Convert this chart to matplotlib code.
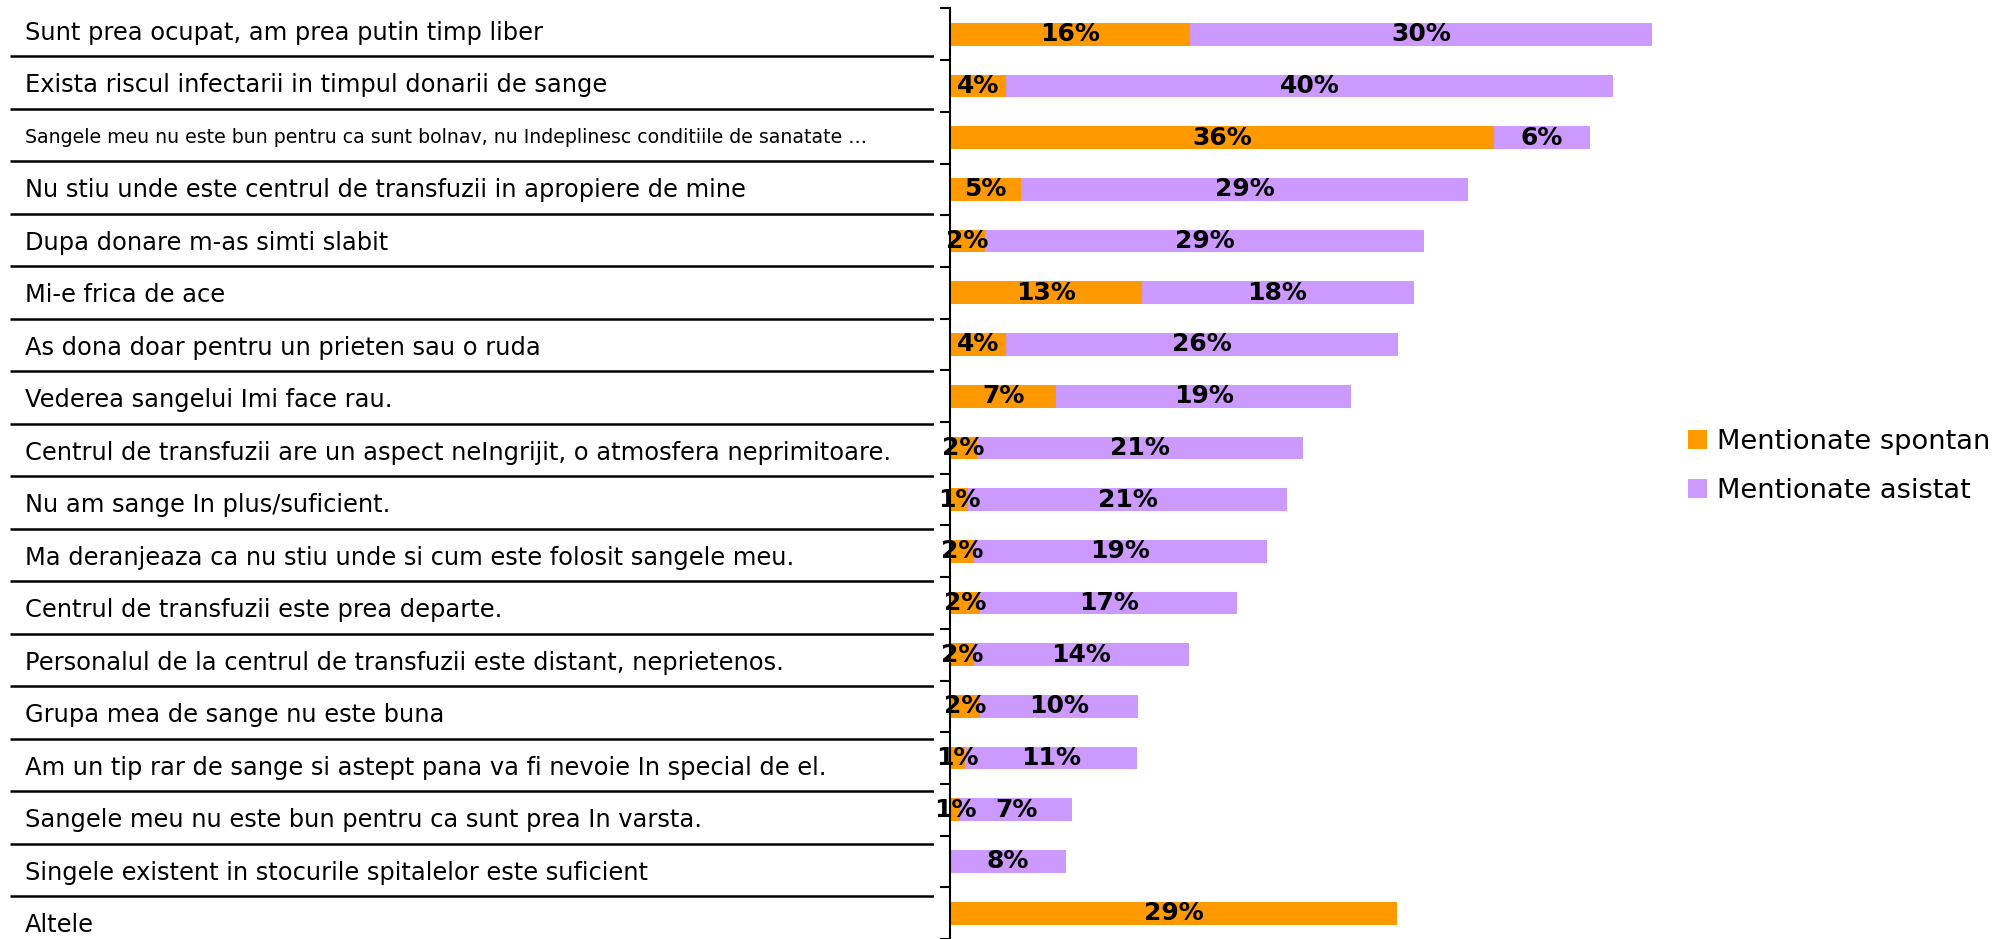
import matplotlib
matplotlib.use("Agg")
import matplotlib.pyplot as plt
from matplotlib.patches import Patch
import numpy as np

categories = [
    "Sunt prea ocupat, am prea putin timp liber",
    "Exista riscul infectarii in timpul donarii de sange",
    "Sangele meu nu este bun pentru ca sunt bolnav, nu Indeplinesc conditiile de sanatate \u2026",
    "Nu stiu unde este centrul de transfuzii in apropiere de mine",
    "Dupa donare m-as simti slabit",
    "Mi-e frica de ace",
    "As dona doar pentru un prieten sau o ruda",
    "Vederea sangelui Imi face rau.",
    "Centrul de transfuzii are un aspect neIngrijit, o atmosfera neprimitoare.",
    "Nu am sange In plus/suficient.",
    "Ma deranjeaza ca nu stiu unde si cum este folosit sangele meu.",
    "Centrul de transfuzii este prea departe.",
    "Personalul de la centrul de transfuzii este distant, neprietenos.",
    "Grupa mea de sange nu este buna",
    "Am un tip rar de sange si astept pana va fi nevoie In special de el.",
    "Sangele meu nu este bun pentru ca sunt prea In varsta.",
    "Singele existent in stocurile spitalelor este suficient",
    "Altele",
]
spontan = [15.8, 3.7, 35.8, 4.7, 2.3, 12.6, 3.7, 7.0, 1.8, 1.2, 1.55, 2.0,
           1.55, 2.0, 1.0, 0.65, 0.0, 29.4]
asistat = [30.4, 39.9, 6.3, 29.4, 28.9, 17.9, 25.8, 19.4, 21.4, 21.0, 19.3,
           16.9, 14.2, 10.4, 11.3, 7.4, 7.6, 0.0]
series_names = ["Mentionate spontan", "Mentionate asistat"]
colors = ["#FF9900", "#CC99FF"]

W, H = 1999, 939
fig = plt.figure(figsize=(W / 100, H / 100), dpi=100)

n = len(categories)
y = np.arange(n)

# --- bar axes ---
ax = fig.add_axes([950 / W, 0.0, 760 / W, 0.991])
b1 = ax.barh(y, spontan, height=0.44, color=colors[0], label=series_names[0])
b2 = ax.barh(y, asistat, left=spontan, height=0.44, color=colors[1], label=series_names[1])
ax.set_xlim(0, 50)
ax.set_ylim(n - 0.5, -0.5)
for bars, vals in ((b1, spontan), (b2, asistat)):
    labels = [f"{int(round(v))}%" if v > 0 else "" for v in vals]
    ax.bar_label(bars, labels=labels, label_type="center", fontsize=18,
                 fontweight="bold", color="black", family="DejaVu Sans")
for s in ("top", "right", "bottom"):
    ax.spines[s].set_visible(False)
ax.spines["left"].set_linewidth(1.5)
ax.set_xticks([])
ax.set_yticks([])
ax.set_yticks(np.arange(n + 1) - 0.5, minor=True)
ax.tick_params(axis="y", which="minor", length=7, width=1.5, direction="out")
ax.set_yticklabels([], minor=True)

# --- label table axes ---
tab = fig.add_axes([10 / W, -0.0102, 924 / W, 1.0064])
tab.set_xlim(0, 1)
tab.set_ylim(n, 0)
tab.axis("off")
tab.hlines(np.arange(1, n), 0, 1, color="black", linewidth=1.8)
for i, c in enumerate(categories):
    fs = 13.6 if len(c) > 80 else 17.4
    tab.text(0.016, i + 0.56, c, fontsize=fs, va="center", ha="left",
             family="DejaVu Sans", color="black")

# --- legend ---
handles = [Patch(facecolor=colors[0], edgecolor="none"),
           Patch(facecolor=colors[1], edgecolor="none")]
fig.legend(handles, series_names, loc="upper left",
           bbox_to_anchor=(1688 / W, 1 - 429 / H), frameon=False,
           handlelength=0.68, handleheight=0.68,
           handletextpad=0.4, labelspacing=0.85, borderpad=0,
           borderaxespad=0, prop={"family": "DejaVu Sans", "size": 19.6})

fig.savefig("out.png", dpi=100)
